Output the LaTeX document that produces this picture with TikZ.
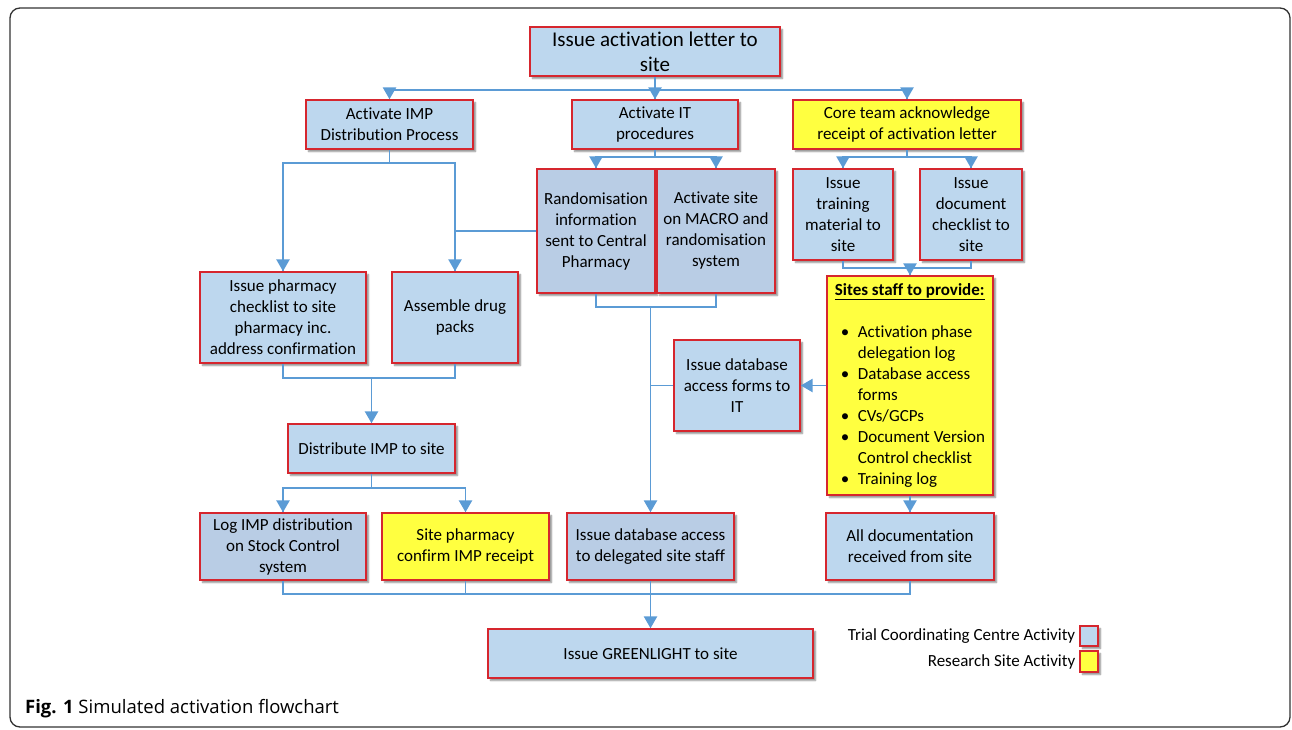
\documentclass[tikz,border=0pt]{standalone}
\usepackage{fontspec}
\usepackage{tikz}
\setmainfont{Carlito}[Ligatures=NoCommon]
\newfontfamily\captionfont{Open Sans}
\usetikzlibrary{arrows}
\usetikzlibrary{decorations.markings}
\usetikzlibrary{shadows}
\usetikzlibrary{shadows.blur}
\definecolor{tccblue}{RGB}{189,215,238}
\definecolor{tccgrey}{RGB}{185,205,229}
\definecolor{siteyellow}{RGB}{255,255,64}
\definecolor{boxred}{RGB}{214,38,46}
\definecolor{linkblue}{RGB}{91,155,213}
\definecolor{framegrey}{RGB}{50,50,50}
\tikzset{activity/.style = {draw=boxred, line width=1.6pt, align=center, inner sep=3pt,
                            font=\fontsize{17}{21}\selectfont,
                            blur shadow={shadow xshift=2.5pt, shadow yshift=-2.5pt,
                                         shadow blur radius=1.5pt, shadow blur steps=5,
                                         shadow opacity=45}},
         tcc/.style = {activity, fill=tccblue},
         tccdark/.style = {activity, fill=tccgrey},
         site/.style = {activity, fill=siteyellow},
         link/.style = {draw=linkblue, line width=1.5pt},
         flow/.style = {link, decoration={markings,
                                          mark=at position 1 with {\arrow[scale=1.3]{triangle 60}}},
                        postaction={decorate}}}

\begin{document}
\begin{tikzpicture}[x=1pt, y=-1pt]
    \useasboundingbox (0, 0) rectangle (1292, 730);
    \draw [framegrey, line width=1.3pt, rounded corners=10pt] (10, 8) rectangle (1290, 727);

    \node (letter) at (655, 51.5) [tcc, minimum width=250pt, minimum height=49pt,
                                   font=\fontsize{21}{25}\selectfont] {Issue activation letter to\\site};
    \node (imp) at (389.5, 124.5) [tcc, minimum width=167pt, minimum height=49pt] {Activate IMP\\Distribution Process};
    \node (it) at (655, 124.5) [tcc, minimum width=166pt, minimum height=49pt] {Activate IT\\procedures};
    \node (core) at (907, 124.5) [site, minimum width=228pt, minimum height=49pt] {Core team acknowledge\\receipt of activation letter};

    \node (rand) at (596, 231) [tccdark, minimum width=118pt, minimum height=124pt] {Randomisation\\information\\sent to Central\\Pharmacy};
    \node (macro) at (716, 231) [tccdark, minimum width=118pt, minimum height=124pt] {Activate site\\on MACRO and\\randomisation\\system};
    \node (train) at (843, 214.5) [tcc, minimum width=100pt, minimum height=91pt] {Issue\\training\\material to\\site};
    \node (doc) at (971, 214.5) [tcc, minimum width=102pt, minimum height=91pt] {Issue\\document\\checklist to\\site};

    \node (pharm) at (283, 317.5) [tcc, minimum width=166pt, minimum height=91pt] {Issue pharmacy\\checklist to site\\pharmacy inc.\\address confirmation};
    \node (drug) at (455, 317.5) [tcc, minimum width=126pt, minimum height=91pt] {Assemble drug\\packs};
    \node (forms) at (737, 385.5) [tcc, minimum width=126pt, minimum height=91pt] {Issue database\\access forms to\\IT};
    \node (staff) at (910, 385.5) [site, minimum width=166pt, minimum height=219pt, align=left, inner sep=5pt]
      {\underline{\textbf{Sites staff to provide:}}\\[21pt]
       \hspace*{6pt}\makebox[17pt][l]{\textbullet}Activation phase\\
       \hspace*{23pt}delegation log\\
       \hspace*{6pt}\makebox[17pt][l]{\textbullet}Database access\\
       \hspace*{23pt}forms\\
       \hspace*{6pt}\makebox[17pt][l]{\textbullet}CVs/GCPs\\
       \hspace*{6pt}\makebox[17pt][l]{\textbullet}Document Version\\
       \hspace*{23pt}Control checklist\\
       \hspace*{6pt}\makebox[17pt][l]{\textbullet}Training log};

    \node (dist) at (371.5, 448.5) [tcc, minimum width=167pt, minimum height=49pt] {Distribute IMP to site};
    \node (log) at (283, 546.5) [tccdark, minimum width=166pt, minimum height=67pt] {Log IMP distribution\\on Stock Control\\system};
    \node (sitepharm) at (465.5, 546.5) [site, minimum width=167pt, minimum height=67pt] {Site pharmacy\\confirm IMP receipt};
    \node (dbaccess) at (650.5, 546.5) [tccdark, minimum width=167pt, minimum height=67pt] {Issue database access\\to delegated site staff};
    \node (alldoc) at (910, 546.5) [tcc, minimum width=168pt, minimum height=67pt] {All documentation\\received from site};
    \node (green) at (650.5, 653.5) [tcc, minimum width=325pt, minimum height=49pt] {Issue GREENLIGHT to site};

    \draw [link] (letter.south) -- ++(0, 13) coordinate (lettersplit);
    \foreach \child in {imp, core}
      \draw [flow] (lettersplit) -| (\child.north);
    \draw [flow] (lettersplit) -- (it.north);

    \draw [link] (imp.south) -- ++(0, 13) coordinate (impsplit);
    \foreach \child in {pharm, drug}
      \draw [flow] (impsplit) -| (\child.north);
    \draw [link] (it.south) -- ++(0, 7) coordinate (itsplit);
    \foreach \child in {rand, macro}
      \draw [flow] (itsplit) -| (\child.north);
    \draw [link] (core.south) -- ++(0, 7) coordinate (coresplit);
    \foreach \child in {train, doc}
      \draw [flow] (coresplit) -| (\child.north);

    \draw [link] (train.south) -- ++(0, 7) coordinate (trainjoin) -| (doc.south);
    \draw [flow] (trainjoin -| staff.north) -- (staff.north);
    \draw [link] (rand.south) -- ++(0, 13) coordinate (randjoin) -| (macro.south);
    \draw [flow] (randjoin -| dbaccess.north) -- (dbaccess.north);
    \draw [link] (rand.west) -- (rand.west -| drug.north);
    \draw [link] (forms.west) -- (forms.west -| dbaccess.north);
    \draw [flow] (staff.west) -- (forms.east);
    \draw [flow] (staff.south) -- (alldoc.north);

    \draw [link] (pharm.south) -- ++(0, 14) coordinate (pharmjoin) -| (drug.south);
    \draw [flow] (pharmjoin -| dist.north) -- (dist.north);
    \draw [link] (dist.south) -- ++(0, 14) coordinate (distsplit);
    \foreach \child in {log, sitepharm}
      \draw [flow] (distsplit) -| (\child.north);

    \draw [link] (log.south) -- ++(0, 13) coordinate (bottomjoin) -| (alldoc.south);
    \draw [link] (sitepharm.south) -- (sitepharm.south |- bottomjoin);
    \draw [flow] (dbaccess.south) -- (green.north);

    \node (keytcc) at (1089, 636) [tcc, minimum width=18pt, minimum height=20pt, inner sep=0pt, line width=1.2pt] {};
    \node (keysite) at (1089, 661.5) [site, minimum width=18pt, minimum height=21pt, inner sep=0pt, line width=1.2pt] {};
    \node (keytcclabel) at (keytcc.west) [left, inner sep=4pt, font=\fontsize{17}{21}\selectfont] {Trial Coordinating Centre Activity};
    \node (keysitelabel) at (keysite.west) [left, inner sep=4pt, font=\fontsize{17}{21}\selectfont] {Research Site Activity};

    \node (caption) at (25, 709) [right, inner sep=0pt, font=\captionfont\fontsize{18.5}{22}\selectfont]
      {\textbf{Fig. 1} Simulated activation flowchart};
  \end{tikzpicture}
\end{document}
